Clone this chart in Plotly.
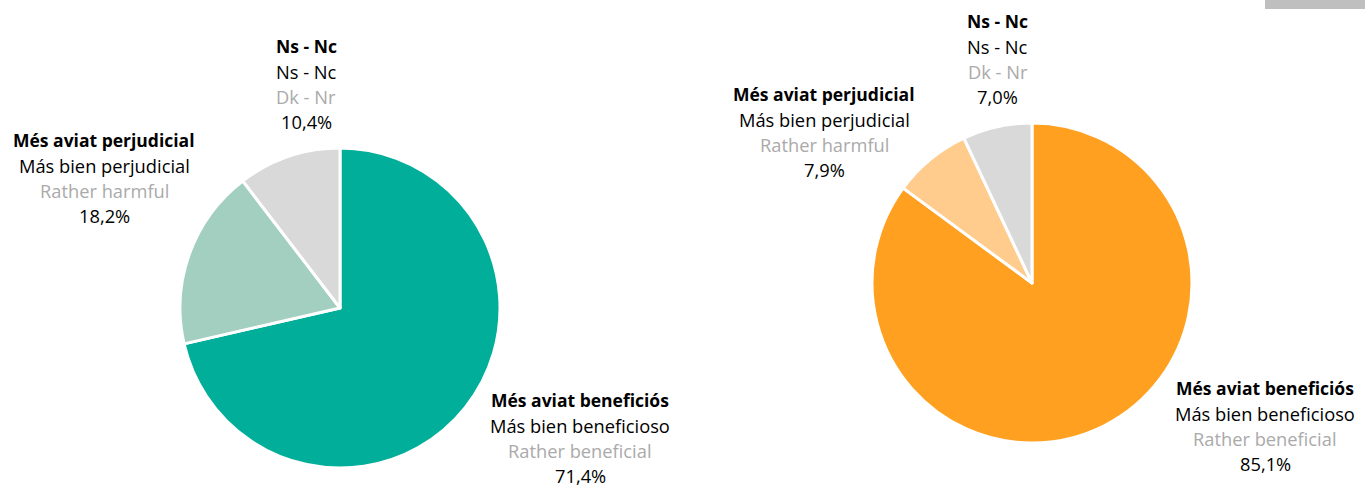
import plotly.graph_objects as go

W, H = 1365, 487

categories_ca = ["Més aviat beneficiós", "Més aviat perjudicial", "Ns - Nc"]
categories_es = ["Más bien beneficioso", "Más bien perjudicial", "Ns - Nc"]
categories_en = ["Rather beneficial", "Rather harmful", "Dk - Nr"]
values_left = [71.4, 18.2, 10.4]
values_right = [85.1, 7.9, 7.0]

colors_left = ["#00AE9A", "#A3CFC0", "#D9D9D9"]
colors_right = ["#FFA020", "#FFCC8E", "#D9D9D9"]

FONT = "Open Sans"

def px_domain(cx, cy, r):
    return dict(x=[(cx - r) / W, (cx + r) / W], y=[1 - (cy + r) / H, 1 - (cy - r) / H])

fig = go.Figure()
for vals, cols, (cx, cy) in [(values_left, colors_left, (340, 308)),
                             (values_right, colors_right, (1032, 283))]:
    fig.add_trace(go.Pie(
        labels=categories_ca, values=vals, sort=False, direction="clockwise",
        rotation=0, textinfo="none", hoverinfo="label+percent",
        marker=dict(colors=cols, line=dict(color="white", width=3)),
        domain=px_domain(cx, cy, 160), showlegend=False,
    ))

# label block positions (center x, first-line y) in pixels
blocks_left = [(580, 400), (104, 140), (306, 46)]
blocks_right = [(1265, 388), (824, 94), (998, 21)]
LS = 25.3

annotations = []
for vals, blocks in [(values_left, blocks_left), (values_right, blocks_right)]:
    for i, (bx, by) in enumerate(blocks):
        pct = f"{vals[i]:.1f}".replace(".", ",") + "%"
        lines = [(f"<b>{categories_ca[i]}</b>", "#000000", 17.5),
                 (categories_es[i], "#000000", 18.3),
                 (categories_en[i], "#AAAAAA", 18.3),
                 (pct, "#000000", 18.3)]
        for j, (t, c, fs) in enumerate(lines):
            annotations.append(dict(
                x=bx / W, y=1 - (by + j * LS) / H, xref="paper", yref="paper",
                text=t, showarrow=False, xanchor="center", yanchor="middle",
                font=dict(family=FONT, size=fs, color=c)))

fig.update_layout(
    width=W, height=H, margin=dict(l=0, r=0, t=0, b=0),
    paper_bgcolor="white", plot_bgcolor="white",
    annotations=annotations,
    shapes=[dict(type="rect", xref="paper", yref="paper",
                 x0=1265 / W, x1=1, y0=1 - 9 / H, y1=1,
                 fillcolor="#BFBFBF", line=dict(width=0))],
)

fig.write_html("out.html", config={"displayModeBar": False},
               post_script="document.body.style.margin='0';document.body.style.overflow='hidden';")
